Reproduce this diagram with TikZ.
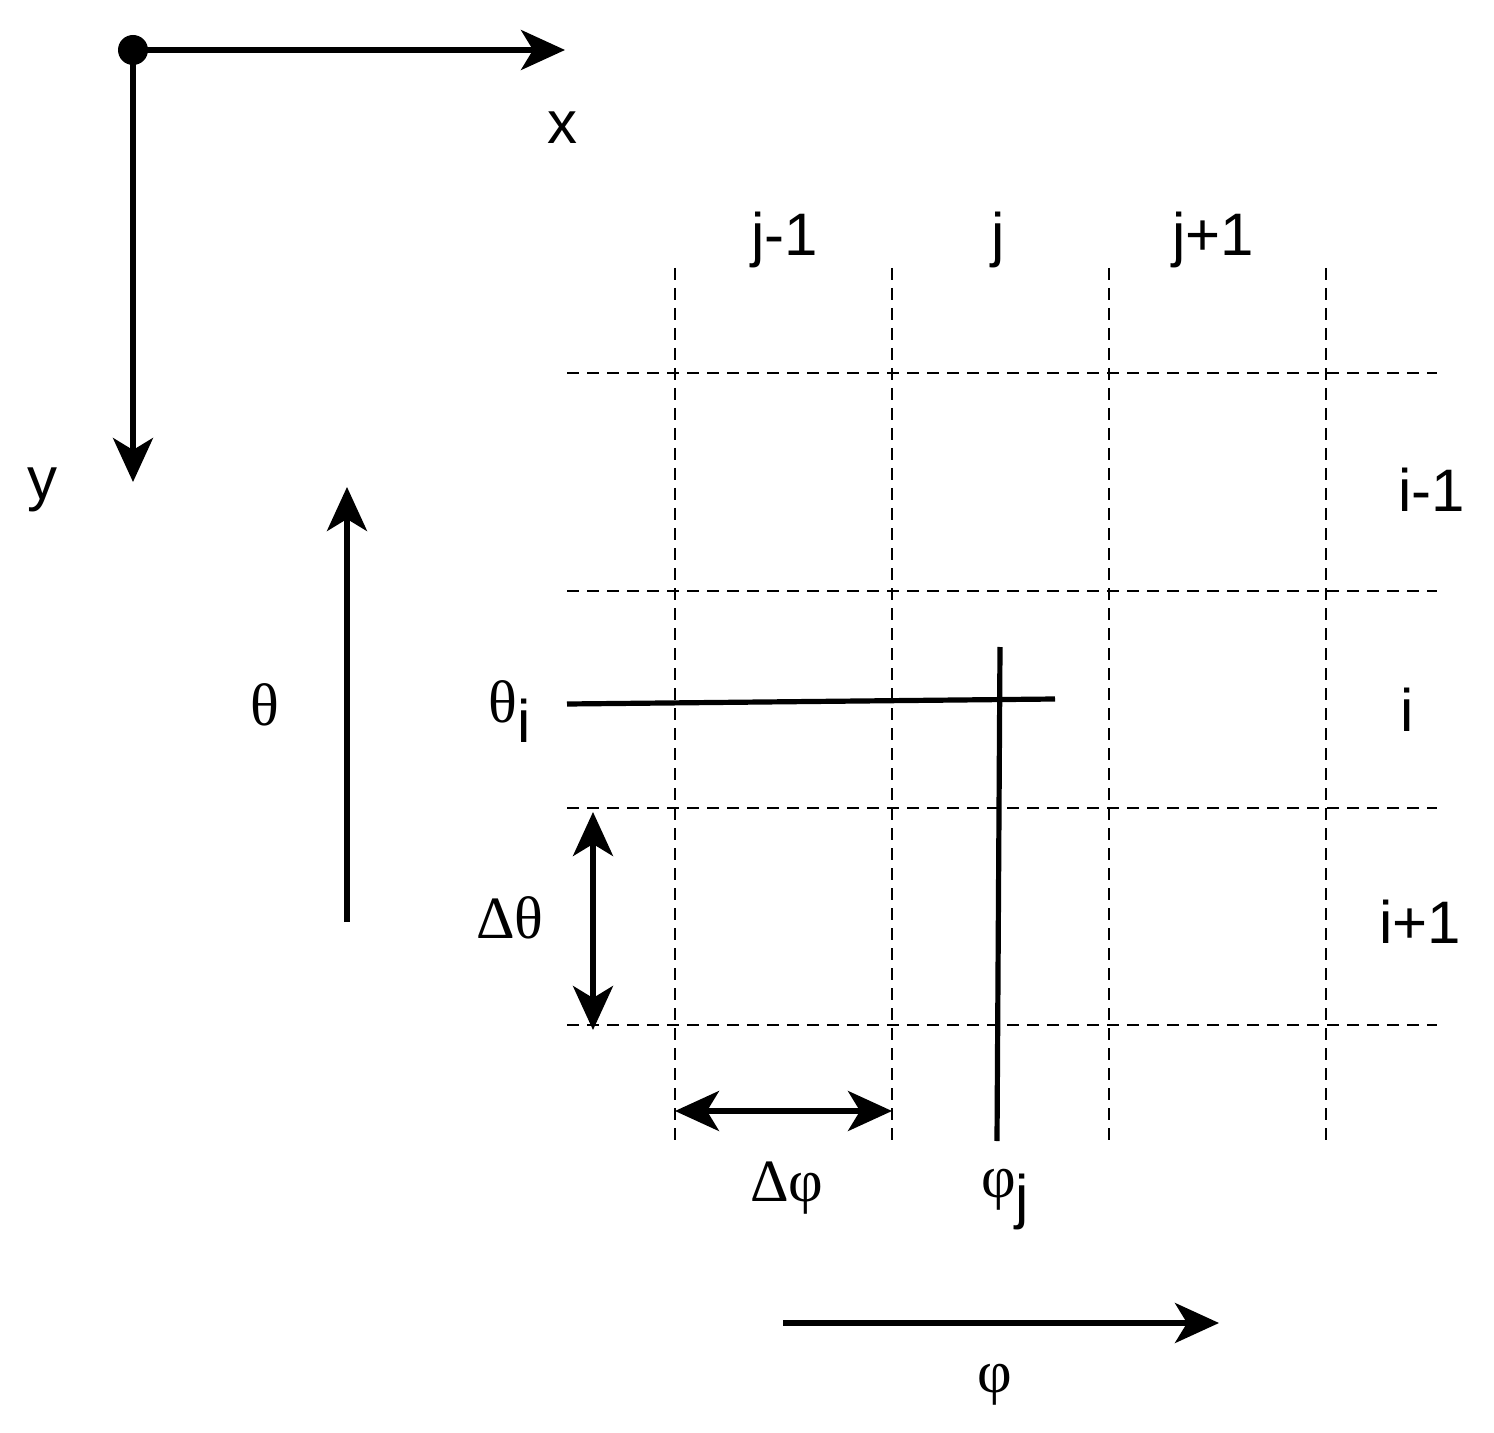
\documentclass[tikz,border=0pt]{standalone}
\usepackage{fontspec}
\setmainfont{Liberation Sans}
\newfontfamily\gr{Liberation Serif}
\usetikzlibrary{arrows.meta}
\begin{document}
\begin{tikzpicture}[x=0.5pt,y=-0.5pt,
  thick line/.style={line width=2.6pt},
  arr/.style={thick line,-{Stealth[length=22pt,width=20pt,inset=6pt]}},
  darr/.style={thick line,{Stealth[length=22pt,width=20pt,inset=6pt]}-{Stealth[length=22pt,width=20pt,inset=6pt]}},
  grid line/.style={line width=1pt,dash pattern=on 6pt off 4pt},
  lbl/.style={font=\fontsize{30}{36}\selectfont,inner sep=0pt},
  glbl/.style={font=\gr\fontsize{30}{36}\selectfont,inner sep=0pt}]
\useasboundingbox (0,0) rectangle (1494,1433);
% axes
\coordinate (o) at (133,50);
\coordinate (xe) at (565,50);
\coordinate (ye) at (133,482);
\fill (o) circle (15);
\draw[arr] (o) -- (xe);
\draw[arr] (o) -- (ye);
\node[lbl] (xl) at (562,128) {x};
\node[lbl] (yl) at (42,490) {y};
% theta arrow
\coordinate (t0) at (347,922);
\coordinate (t1) at (347,487);
\draw[arr] (t0) -- (t1);
\node[glbl] (tl) at (265,705) {θ};
% grid
\foreach \x in {675,892,1109,1326} \draw[grid line] (\x,268) -- (\x,1142);
\foreach \y in {373,591,808,1025} \draw[grid line] (567,\y) -- (1437,\y);
\node[lbl] (jm) at (785,240) {j-1};
\node[lbl] (jj) at (998,240) {j};
\node[lbl] (jp) at (1213,240) {j+1};
\node[lbl] (im) at (1432,490) {i-1};
\node[lbl] (ii) at (1407,710) {i};
\node[lbl] (ip) at (1420,922) {i+1};
% theta_i line
\coordinate (a0) at (567,704);
\coordinate (a1) at (1055,699);
\draw[thick line] (a0) -- (a1);
\node[inner sep=0pt] (til) at (510,712) {{\gr\fontsize{30}{36}\selectfont θ}\raisebox{-10pt}{\fontsize{30}{36}\selectfont i}};
% phi_j line
\coordinate (b0) at (1000,647);
\coordinate (b1) at (997,1141);
\draw[thick line] (b0) -- (b1);
\node[inner sep=0pt] (pjl) at (1005,1200) {{\gr\fontsize{30}{36}\selectfont φ}\raisebox{-10pt}{\fontsize{30}{36}\selectfont j}};
% delta theta
\coordinate (d0) at (593,812);
\coordinate (d1) at (593,1030);
\draw[darr] (d0) -- (d1);
\node[glbl] (dtl) at (510,918) {Δθ};
% delta phi
\coordinate (e0) at (675,1111);
\coordinate (e1) at (892,1111);
\draw[darr] (e0) -- (e1);
\node[glbl] (dpl) at (787,1188) {Δφ};
% phi arrow
\coordinate (f0) at (783,1323);
\coordinate (f1) at (1219,1323);
\draw[arr] (f0) -- (f1);
\node[glbl] (pl) at (995,1385) {φ};
\end{tikzpicture}
\end{document}
